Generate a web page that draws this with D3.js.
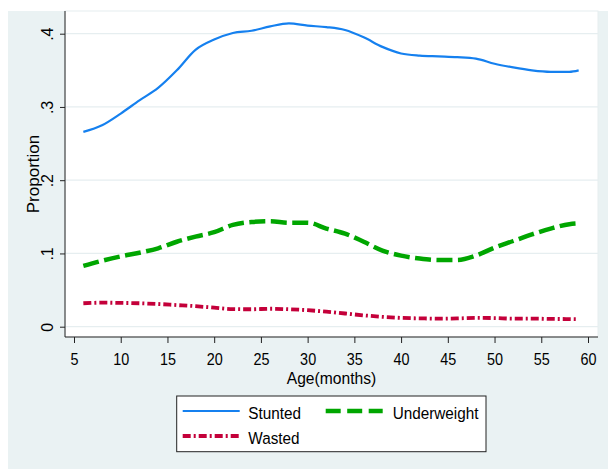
<!DOCTYPE html>
<html>
<head>
<meta charset="utf-8">
<script src="https://cdn.jsdelivr.net/npm/d3@7"></script>
<style>
  html, body { margin: 0; padding: 0; background: #ffffff; }
  svg { display: block; }
  text { font-family: "Liberation Sans", Arial, sans-serif; fill: #000; }
</style>
</head>
<body>
<svg id="chart" width="608" height="469"></svg>
<script>
// ---- Data ----
const ages = [6, 8, 10, 12, 14, 16, 18, 20, 22, 24, 26, 28, 30, 32, 34, 36, 38, 40, 42, 44, 46, 48, 50, 52, 54, 56, 58, 59];
const stunted = [0.266, 0.275, 0.291, 0.309, 0.326, 0.350, 0.378, 0.392, 0.401, 0.404, 0.410, 0.414, 0.411, 0.409, 0.405, 0.395, 0.382, 0.373, 0.370, 0.369, 0.368, 0.366, 0.359, 0.354, 0.350, 0.348, 0.348, 0.350];
const underweight = [0.083, 0.090, 0.096, 0.101, 0.107, 0.116, 0.123, 0.129, 0.139, 0.143, 0.144, 0.142, 0.142, 0.134, 0.127, 0.116, 0.104, 0.097, 0.093, 0.091, 0.091, 0.097, 0.108, 0.117, 0.126, 0.134, 0.140, 0.141];
const wasted = [0.032, 0.0328, 0.0325, 0.032, 0.031, 0.0295, 0.028, 0.026, 0.024, 0.0238, 0.0245, 0.0238, 0.0225, 0.0205, 0.018, 0.0155, 0.0135, 0.012, 0.0114, 0.011, 0.0113, 0.012, 0.0118, 0.011, 0.011, 0.0106, 0.0104, 0.0102];
const xTicks = [5, 10, 15, 20, 25, 30, 35, 40, 45, 50, 55, 60];
const yTicks = [0, 0.1, 0.2, 0.3, 0.4];
const yTickLabels = ["0", ".1", ".2", ".3", ".4"];
const seriesNames = ["Stunted", "Underweight", "Wasted"];

const svg = d3.select("#chart");

// graph region background
svg.append("rect").attr("x", 8).attr("y", 11).attr("width", 600).attr("height", 458).attr("fill", "#eaf2f3");

// plot region
const plot = { left: 65, right: 598, top: 11, bottom: 337 };
svg.append("rect").attr("x", plot.left).attr("y", plot.top)
  .attr("width", plot.right - plot.left).attr("height", plot.bottom - plot.top)
  .attr("fill", "#ffffff").attr("stroke", "#e6edef").attr("stroke-width", 1);

const x = d3.scaleLinear().domain([5, 60]).range([74, 588]);
const y = d3.scaleLinear().domain([0, 0.4]).range([326.7, 33.7]);

// gridlines
svg.append("g").selectAll("line").data(yTicks).join("line")
  .attr("x1", plot.left).attr("x2", plot.right)
  .attr("y1", d => y(d)).attr("y2", d => y(d))
  .attr("stroke", "#e6eef0").attr("stroke-width", 1.2);

// y axis
const yAxis = d3.axisLeft(y).tickValues(yTicks).tickSize(5).tickPadding(0).tickFormat((d, i) => yTickLabels[i]);
const gy = svg.append("g").attr("transform", `translate(${plot.left},0)`).call(yAxis);
gy.select(".domain").attr("d", `M0,${plot.top}V${plot.bottom}`).attr("stroke", "#222");
gy.selectAll(".tick line").attr("stroke", "#222");
gy.selectAll(".tick text")
  .attr("font-size", 16).attr("font-family", '"Liberation Sans", Arial, sans-serif')
  .attr("fill", "#000")
  .attr("text-anchor", "middle").attr("dy", null)
  .attr("x", null)
  .attr("transform", "translate(-12,0) rotate(-90)");

// x axis
const xAxis = d3.axisBottom(x).tickValues(xTicks).tickSize(6).tickPadding(0).tickFormat(d3.format("d"));
const gx = svg.append("g").attr("transform", `translate(0,${plot.bottom})`).call(xAxis);
gx.select(".domain").attr("d", `M${plot.left},0H${plot.right}`).attr("stroke", "#222");
gx.selectAll(".tick line").attr("stroke", "#222");
gx.selectAll(".tick text")
  .attr("font-size", 16).attr("font-family", '"Liberation Sans", Arial, sans-serif')
  .attr("fill", "#000")
  .attr("dy", null).attr("y", 0)
  .attr("transform", "translate(0,27.5) scale(0.9,1)");

// axis titles
svg.append("text").attr("transform", "translate(331.5,384) scale(0.92,1)")
  .attr("text-anchor", "middle").attr("font-size", 17).text("Age(months)");
svg.append("text").attr("transform", "translate(39,174) rotate(-90)")
  .attr("text-anchor", "middle").attr("font-size", 17).text("Proportion");

// lines
const styles = [
  { color: "#1580ef", width: 2.2, dash: null },
  { color: "#00a600", width: 4.5, dash: "16,5.5" },
  { color: "#c4003a", width: 3.8, dash: "8,3,2,3" }
];
const allSeries = [stunted, underweight, wasted];
const line = d3.line().x(d => x(d[0])).y(d => y(d[1])).curve(d3.curveMonotoneX);
allSeries.forEach((vals, i) => {
  svg.append("path")
    .datum(ages.map((a, j) => [a, vals[j]]))
    .attr("d", line)
    .attr("fill", "none")
    .attr("stroke", styles[i].color)
    .attr("stroke-width", styles[i].width)
    .attr("stroke-dasharray", styles[i].dash);
});

// legend
svg.append("rect").attr("x", 176.7).attr("y", 396).attr("width", 309.3).attr("height", 55.7)
  .attr("fill", "#ffffff").attr("stroke", "#222").attr("stroke-width", 1);
const legendItems = [
  { x: 182.7, y: 411, tx: 248.3 },
  { x: 325.7, y: 411, tx: 392.7 },
  { x: 182.7, y: 436, tx: 248.3 }
];
legendItems.forEach((it, i) => {
  svg.append("line").attr("x1", it.x).attr("x2", it.x + 57).attr("y1", it.y).attr("y2", it.y)
    .attr("stroke", styles[i].color).attr("stroke-width", styles[i].width)
    .attr("stroke-dasharray", i === 1 ? "15,6.5" : styles[i].dash);
  svg.append("text").attr("transform", `translate(${it.tx},${it.y + 7.5}) scale(0.9,1)`)
    .attr("font-size", 17).text(seriesNames[i]);
});
</script>
</body>
</html>
